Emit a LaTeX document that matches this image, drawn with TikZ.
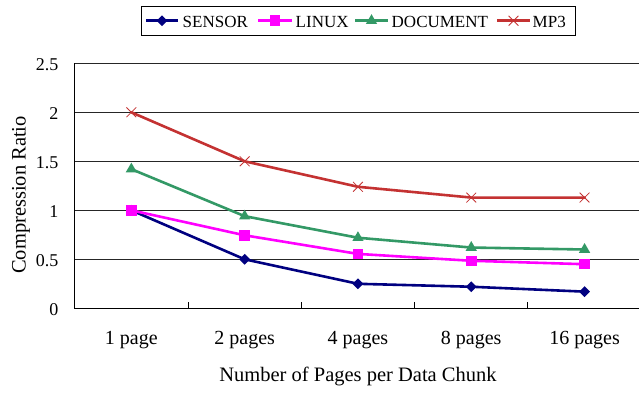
\documentclass[tikz,border=0pt]{standalone}
\usepackage{fontspec}
\setmainfont{Liberation Serif}
\usetikzlibrary{shapes.geometric,shapes.misc,calc}
\definecolor{colS}{RGB}{0,0,128}
\definecolor{colL}{RGB}{255,0,255}
\definecolor{colD}{RGB}{51,153,102}
\definecolor{colM}{RGB}{196,50,50}
\tikzset{
  grid line/.style={draw=black!85, line width=0.9pt},
  axis line/.style={draw=black, line width=1.2pt},
  series/.style={line width=2.6pt, line join=round, line cap=round},
  mdiamond/.style={diamond, fill=colS, inner sep=0pt, minimum width=11pt, minimum height=11pt},
  msquare/.style={rectangle, fill=colL, inner sep=0pt, minimum size=10.5pt},
  mtriangle/.style={regular polygon, regular polygon sides=3, fill=colD, inner sep=0pt, minimum size=13pt},
  mcross/.style={cross out, draw=colM, line width=0.8pt, inner sep=0pt, minimum size=9pt},
  ticklab/.style={font=\fontsize{20}{24}\selectfont, inner sep=0pt},
  ylab/.style={font=\fontsize{18}{22}\selectfont, inner sep=0pt, anchor=east},
  titlelab/.style={font=\fontsize{20.5}{24}\selectfont, inner sep=0pt},
  legtext/.style={font=\fontsize{17}{20}\selectfont, inner sep=0pt, anchor=base west},
  legbox/.style={draw=black, line width=0.9pt, fill=white, inner sep=0pt, minimum width=434.3pt, minimum height=28.3pt}
}
\begin{document}
\begin{tikzpicture}[x=1pt,y=-1pt]
\useasboundingbox (0,0) rectangle (639,393);
\fill[white] (0,0) rectangle (639,393);
% gridlines
\foreach \v [count=\k] in {0.5,1,1.5,2,2.5}
  \draw[grid line] (74.7,{308.3-98*\v}) -- (639,{308.3-98*\v});
% axes
\coordinate (o) at (74.7,308.3);
\coordinate (top) at (74.7,63.3);
\coordinate (br) at (639,308.3);
\draw[axis line] (top) -- (o) -- (br);
\foreach \i in {1,2,3,4}
  \draw[axis line, line width=1pt] ({74.7+113.3*\i},308.3) -- ({74.7+113.3*\i},302);
% y tick labels
\foreach \v/\t in {0/0,0.5/0.5,1/1,1.5/1.5,2/2,2.5/2.5}
  \node[ylab] at (58.5,{309.5-98*\v}) {\t};
% x tick labels
\foreach \t [count=\i] in {1 page,2 pages,4 pages,8 pages,16 pages}
  \node[ticklab, anchor=base] (xl\i) at ({18.05+113.3*\i},344) {\t};
% axis titles
\node[titlelab, anchor=base] (xt) at (358,381) {Number of Pages per Data Chunk};
\node[titlelab, anchor=base, rotate=90] (yt) at (25.5,195) {Compression Ratio};
% data coordinates
\foreach \v [count=\i] in {1,0.5,0.25,0.22,0.17}
  \coordinate (s\i) at ({18.05+113.3*\i},{308.3-98*\v});
\foreach \v [count=\i] in {1,0.745,0.555,0.485,0.45}
  \coordinate (l\i) at ({18.05+113.3*\i},{308.3-98*\v});
\foreach \v [count=\i] in {1.42,0.94,0.72,0.62,0.60}
  \coordinate (d\i) at ({18.05+113.3*\i},{308.3-98*\v});
\foreach \v [count=\i] in {2,1.5,1.24,1.13,1.13}
  \coordinate (m\i) at ({18.05+113.3*\i},{308.3-98*\v});
% lines
\draw[series, colM] (m1) -- (m2) -- (m3) -- (m4) -- (m5);
\draw[series, colD] (d1) -- (d2) -- (d3) -- (d4) -- (d5);
\draw[series, colS] (s1) -- (s2) -- (s3) -- (s4) -- (s5);
\draw[series, colL] (l1) -- (l2) -- (l3) -- (l4) -- (l5);
% markers
\foreach \i in {1,...,5} {
  \node[mcross] (mm\i) at (m\i) {};
  \node[mtriangle] (dm\i) at (d\i) {};
  \node[mdiamond] (sm\i) at (s\i) {};
  \node[msquare] (lm\i) at (l\i) {};
}
% legend
\node[legbox] (leg) at (358.15,20.85) {};
\coordinate (la1) at (146,20.7); \coordinate (lb1) at (178,20.7);
\coordinate (la2) at (258,20.7); \coordinate (lb2) at (292,20.7);
\coordinate (la3) at (355,20.7); \coordinate (lb3) at (388,20.7);
\coordinate (la4) at (497,20.7); \coordinate (lb4) at (530,20.7);
\draw[series, colS, line cap=butt] (la1) -- (lb1);
\draw[series, colL, line cap=butt] (la2) -- (lb2);
\draw[series, colD, line cap=butt] (la3) -- (lb3);
\draw[series, colM, line cap=butt] (la4) -- (lb4);
\node[mdiamond] (lg1) at ($(la1)!0.5!(lb1)$) {};
\node[msquare] (lg2) at ($(la2)!0.5!(lb2)$) {};
\node[mtriangle] (lg3) at ($(la3)!0.5!(lb3)$) {};
\node[mcross] (lg4) at ($(la4)!0.5!(lb4)$) {};
\node[legtext] (lt1) at (182.5,28) {SENSOR};
\node[legtext] (lt2) at (295.5,28) {LINUX};
\node[legtext] (lt3) at (391.5,28) {DOCUMENT};
\node[legtext] (lt4) at (532.5,28) {MP3};
\end{tikzpicture}
\end{document}
